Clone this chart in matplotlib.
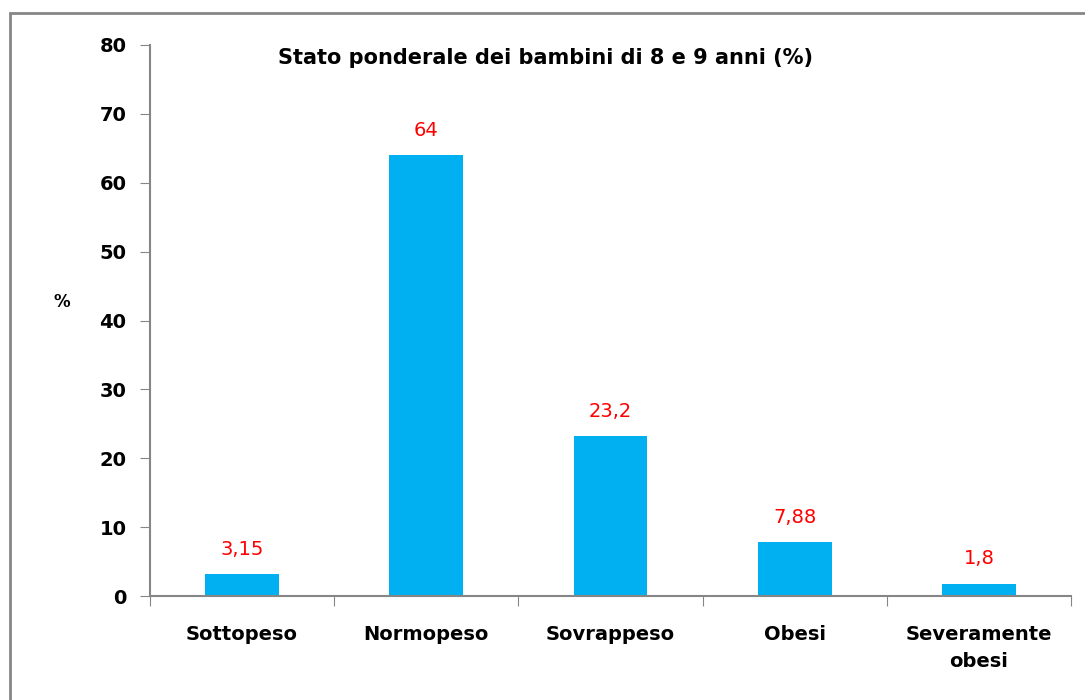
import matplotlib.pyplot as plt
import matplotlib.patches as patches
import numpy as np

categories = ["Sottopeso", "Normopeso", "Sovrappeso", "Obesi", "Severamente\nobesi"]
values = [3.15, 64, 23.2, 7.88, 1.8]
value_labels = ["3,15", "64", "23,2", "7,88", "1,8"]

plt.rcParams['font.family'] = ['DejaVu Sans']

fig = plt.figure(figsize=(10.85, 7), dpi=100)
ax = fig.add_axes([150/1085, 1 - 596/700, 921/1085, 551/700])

# figure border
fig.patches.append(patches.Rectangle((10/1085, -0.05), 1.2, 1 - 13/700 + 0.05,
                                     transform=fig.transFigure, fill=False,
                                     edgecolor="#868686", linewidth=2))

x = np.arange(len(categories))
ax.bar(x, values, width=0.4, color="#00B0F0")
for xi, v, lab in zip(x, values, value_labels):
    ax.text(xi, v + 2.2, lab, ha="center", va="bottom", color="red", fontsize=14)

ax.set_xlim(-0.5, len(categories) - 0.5)
ax.set_ylim(0, 80)
ax.set_yticks(range(0, 81, 10))
ax.set_yticklabels([str(t) for t in range(0, 81, 10)], fontweight="bold", fontsize=14)

ax.set_xticks(np.arange(-0.5, len(categories), 1))
ax.set_xticklabels([])
ax.set_xticks(x, minor=True)
ax.set_xticklabels(categories, minor=True, fontweight="bold", fontsize=14,
                   linespacing=1.5)
ax.tick_params(axis="x", which="minor", length=0, pad=21)
ax.tick_params(axis="x", which="major", length=7, color="#868686", direction="out")
ax.tick_params(axis="y", length=7, color="#868686", direction="out", pad=10)

for s in ["top", "right"]:
    ax.spines[s].set_visible(False)
for s in ["left", "bottom"]:
    ax.spines[s].set_color("#868686")
    ax.spines[s].set_linewidth(1.5)

fig.text(62/1085, 1 - 302/700, "%", ha="center", va="center", fontweight="bold", fontsize=12)
fig.text(545/1085, 1 - 58/700, "Stato ponderale dei bambini di 8 e 9 anni (%)",
         ha="center", va="center", fontweight="bold", fontsize=15)

fig.savefig("out.png", dpi=100)
